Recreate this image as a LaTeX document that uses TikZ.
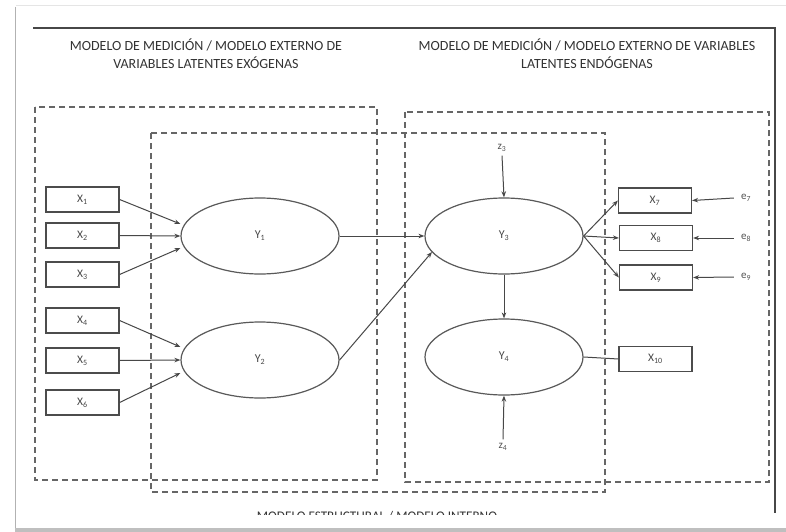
\documentclass[tikz,border=0pt]{standalone}
\usepackage{fontspec}
\setmainfont{Carlito}
\usetikzlibrary{arrows.meta,shapes.geometric,calc}

\tikzset{
  ink/.style={draw=black!72, line width=1pt},
  obs/.style={draw=black!70, line width=1.2pt, minimum width=73pt, minimum height=25pt,
    inner sep=0pt, text=black!72, font=\fontsize{11.5}{13}\selectfont},
  lat/.style={ellipse, draw=black!65, line width=1.2pt, minimum width=158pt, minimum height=76pt,
    inner sep=0pt, text=black!72, font=\fontsize{12}{14}\selectfont},
  regbox/.style={draw=black!60, dash pattern=on 6pt off 4pt, line width=1.2pt},
  link/.style={ink, -{Stealth[length=6pt,width=4.5pt]}},
  errlbl/.style={inner sep=0pt, text=black!68, font=\fontsize{11}{13}\selectfont},
  title/.style={align=center, text=black!80, font=\fontsize{14}{18}\selectfont, inner sep=0pt}
}

\begin{document}
\begin{tikzpicture}[x=1pt,y=-1pt]
\useasboundingbox (0,0) rectangle (786,532);

% page sheet with its shadowed edges
\fill[white] (0,0) rectangle (786,532);
\draw[black!10, line width=1pt] (16,6) -- (786,6);
\draw[black!30, line width=1.5pt] (15.5,7) -- (15.5,530);
\fill[black!25] (15,528) rectangle (786,532);

% frame of the figure
\draw[black!72, line width=1.6pt] (33,28) -- (775,28) -- (775,513);

% titles
\node[title] (t1) at (206,54) {MODELO DE MEDICIÓN / MODELO EXTERNO DE\\VARIABLES LATENTES EXÓGENAS};
\node[title] (t2) at (587,54) {MODELO DE MEDICIÓN / MODELO EXTERNO DE VARIABLES\\LATENTES ENDÓGENAS};

% regions of the model
\draw[regbox] (35,107) rectangle (377,480);
\draw[regbox] (151,133) rectangle (605,492);
\draw[regbox] (405,112) rectangle (769,482);

% caption of the structural part, cut by the lower edge
\begin{scope}
  \clip (0,0) rectangle (786,514);
  \node[title, anchor=north, font=\fontsize{13.2}{16}\selectfont] (t3) at (377,511) {MODELO ESTRUCTURAL / MODELO INTERNO};
\end{scope}

% indicators of the exogenous constructs
\node[obs] (X1) at (82.5,199.5) {X\textsubscript{1}};
\node[obs] (X2) at (82.5,235.5) {X\textsubscript{2}};
\node[obs] (X3) at (82.5,274.5) {X\textsubscript{3}};
\node[obs] (X4) at (82.5,320.5) {X\textsubscript{4}};
\node[obs] (X5) at (82.5,360.5) {X\textsubscript{5}};
\node[obs] (X6) at (82.5,402.5) {X\textsubscript{6}};

% latent variables
\node[lat] (Y1) at (260,236) {Y\textsubscript{1}};
\node[lat] (Y2) at (260,360) {Y\textsubscript{2}};
\node[lat] (Y3) at (504,236) {Y\textsubscript{3}};
\node[lat] (Y4) at (504,357) {Y\textsubscript{4}};

% indicators of the endogenous constructs
\node[obs] (X7) at (655,200.5) {X\textsubscript{7}};
\node[obs] (X8) at (656,238) {X\textsubscript{8}};
\node[obs] (X9) at (656,277.5) {X\textsubscript{9}};
\node[obs] (X10) at (655.5,359) {X\textsubscript{10}};

% disturbances and measurement errors
\node[errlbl, inner sep=4pt] (z3) at (502,148) {z\textsubscript{3}};
\node[errlbl, inner sep=4pt] (z4) at (503,447) {z\textsubscript{4}};
\node[errlbl, inner sep=7pt] (e7) at (746,198) {e\textsubscript{7}};
\node[errlbl, inner sep=7pt] (e8) at (746,238) {e\textsubscript{8}};
\node[errlbl, inner sep=7pt] (e9) at (746,277) {e\textsubscript{9}};

% reflective indicators -> Y1, Y2
\draw[link] (X1.east) -- ([yshift=12pt]Y1.west);
\draw[link] (X2.east) -- (Y1.west);
\draw[link] (X3.east) -- ([yshift=-12pt]Y1.west);
\draw[link] (X4.east) -- ([yshift=13pt]Y2.west);
\draw[link] (X5.east) -- (Y2.west);
\draw[link] (X6.east) -- ([yshift=-13pt]Y2.west);

% structural paths
\draw[link] (Y1.east) -- (Y3.west);
\draw[link] (Y2.east) -- ($(Y3.center)+(-72,16)$);
\draw[link] (Y3.south) -- (Y4.north);
\draw[link] (z3.south) -- (Y3.north);
\draw[link] (z4.north) -- (Y4.south);

% Y3 -> its indicators
\draw[link] (Y3.east) -- (X7.west);
\draw[link] (Y3.east) -- (X8.west);
\draw[link] (Y3.east) -- (X9.west);
\draw[ink] (Y4.east) -- (X10.west);

% errors -> indicators
\draw[link] (e7.west) -- (X7.east);
\draw[link] (e8.west) -- (X8.east);
\draw[link] (e9.west) -- (X9.east);
\end{tikzpicture}
\end{document}
